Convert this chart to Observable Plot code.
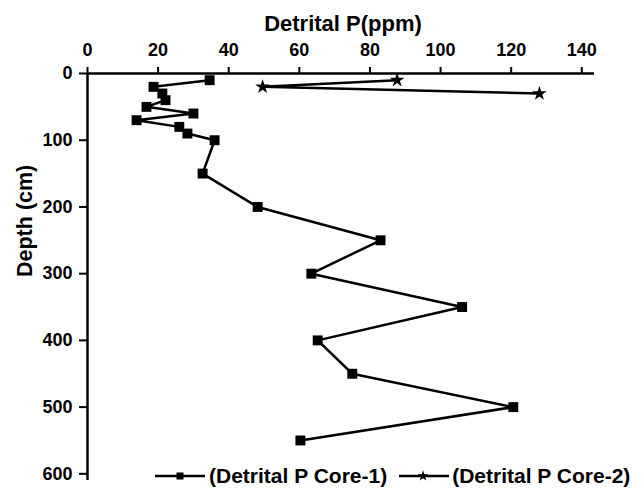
<!DOCTYPE html>
<html>
<head>
<meta charset="utf-8">
<script src="https://cdn.jsdelivr.net/npm/d3@7"></script>
<script src="https://cdn.jsdelivr.net/npm/@observablehq/plot@0.6"></script>
<style>
  body { margin: 0; background: #fff; }
  #wrap { position: relative; width: 644px; height: 491px; font-family: "Liberation Sans", Arial, sans-serif; overflow: hidden; }
  #legend { position: absolute; left: 155px; top: 463px; height: 26px; display: flex; align-items: center; font-weight: bold; font-size: 21px; color: #000; white-space: nowrap; }
  #legend svg { display: block; }
</style>
</head>
<body>
<div id="wrap"></div>
<script>
const depth1 = [10, 20, 30, 40, 50, 60, 70, 80, 90, 100, 150, 200, 250, 300, 350, 400, 450, 500, 550];
const core1 = [34.6, 18.7, 21.2, 22.1, 16.7, 30, 13.9, 26, 28.3, 36, 32.6, 48.2, 83, 63.4, 106.1, 65.2, 75, 120.6, 60.3];
const depth2 = [10, 20, 30];
const core2 = [87.7, 49.6, 128];
const xTicks = [0, 20, 40, 60, 80, 100, 120, 140];
const yTicks = [0, 100, 200, 300, 400, 500, 600];
const seriesNames = ["(Detrital P Core-1)", "(Detrital P Core-2)"];
const xTitle = "Detrital P(ppm)";
const yTitle = "Depth (cm)";

const d1 = depth1.map((d, i) => ({depth: d, p: core1[i]}));
const d2 = depth2.map((d, i) => ({depth: d, p: core2[i]}));

const chart = Plot.plot({
  width: 644,
  height: 491,
  marginLeft: 87,
  marginRight: 50,
  marginTop: 73,
  marginBottom: 11,
  style: {fontFamily: "'Liberation Sans', Arial, sans-serif", fontWeight: "bold", fontSize: "17px", background: "#fff", color: "#000"},
  x: {domain: [0, 143.6]},
  y: {domain: [0, 610], reverse: true},
  marks: [
    Plot.axisX({anchor: "top", ticks: xTicks, tickSize: 7, tickPadding: 11, fontSize: 18, strokeWidth: 2, label: null}),
    Plot.axisY({anchor: "left", ticks: yTicks, tickSize: 8, tickPadding: 7, fontSize: 18, strokeWidth: 2, label: null}),
    Plot.ruleY([0], {stroke: "#000", strokeWidth: 2.5}),
    Plot.ruleX([0], {stroke: "#000", strokeWidth: 2.5}),
    Plot.text([xTitle], {frameAnchor: "top", dx: 2, dy: -58, fontSize: 22, fontWeight: "bold", fill: "#000"}),
    Plot.text([yTitle], {frameAnchor: "left", dx: -62, rotate: -90, fontSize: 21.5, fontWeight: "bold", fill: "#000"}),
    Plot.line(d1, {x: "p", y: "depth", stroke: "#000", strokeWidth: 2.5}),
    Plot.dot(d1, {x: "p", y: "depth", symbol: "square", r: 5.6, fill: "#000", stroke: "none"}),
    Plot.line(d2, {x: "p", y: "depth", stroke: "#000", strokeWidth: 2.5}),
    Plot.dot(d2, {x: "p", y: "depth", symbol: "star", r: 4.6, fill: "#000", stroke: "none"})
  ]
});

const wrap = document.getElementById("wrap");
wrap.appendChild(chart);

const legend = document.createElement("div");
legend.id = "legend";
const sq = `<svg width="50" height="12"><line x1="0" y1="6" x2="50" y2="6" stroke="#000" stroke-width="2.5"/><rect x="21.5" y="2.5" width="7" height="7" fill="#000"/></svg>`;
const st = `<svg width="50" height="14"><line x1="0" y1="7" x2="50" y2="7" stroke="#000" stroke-width="2.5"/><path transform="translate(24,7)" d="${d3.symbol(d3.symbolStar, 36)()}" fill="#000"/></svg>`;
legend.innerHTML = `${sq}<span style="margin-left:4px;margin-right:12px">${seriesNames[0]}</span>${st}<span style="margin-left:3px">${seriesNames[1]}</span>`;
wrap.appendChild(legend);
</script>
</body>
</html>
